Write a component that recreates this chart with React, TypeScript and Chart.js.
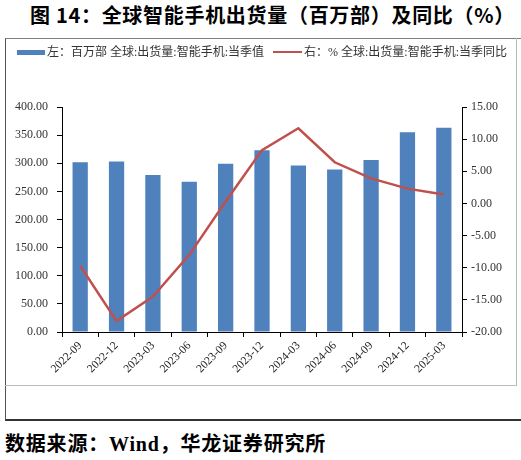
import React, { useEffect, useRef } from "react";
import { Chart, registerables } from "chart.js";

Chart.register(...registerables);

const categories = [
  "2022-09", "2022-12", "2023-03", "2023-06", "2023-09", "2023-12",
  "2024-03", "2024-06", "2024-09", "2024-12", "2025-03",
];
const shipments = [302, 303, 279, 267, 299, 323, 296, 289, 306, 355, 363];
const yoy = [-9.7, -18.3, -14.5, -8.0, 0.3, 8.3, 11.7, 6.4, 3.9, 2.3, 1.4];

const titleText = "图 14：全球智能手机出货量（百万部）及同比（%）";
const legendLeft = "左：百万部 全球:出货量:智能手机:当季值";
const legendRight = "右：% 全球:出货量:智能手机:当季同比";
const sourceText = "数据来源：Wind，华龙证券研究所";

const BLUE = "#4F81BD";
const RED = "#C0504D";
const serif = "'Liberation Serif', 'Noto Sans CJK SC', serif";

export default function App() {
  const ref = useRef<HTMLCanvasElement | null>(null);

  useEffect(() => {
    if (!ref.current) return;
    const tickFont = { family: "'Liberation Serif', serif", size: 12 };
    const chart = new Chart(ref.current, {
      type: "bar",
      data: {
        labels: categories,
        datasets: [
          {
            type: "line",
            label: legendRight,
            data: yoy,
            yAxisID: "y1",
            borderColor: RED,
            backgroundColor: RED,
            borderWidth: 2.5,
            pointRadius: 0,
            tension: 0,
            order: 0,
          } as any,
          {
            type: "bar",
            label: legendLeft,
            data: shipments,
            yAxisID: "y",
            backgroundColor: BLUE,
            borderWidth: 0,
            barPercentage: 0.42,
            categoryPercentage: 1,
            order: 1,
          },
        ],
      },
      options: {
        responsive: false,
        animation: false,
        devicePixelRatio: 1,
        layout: { padding: { top: 69, left: 0, right: 0, bottom: 0 } },
        plugins: { legend: { display: false }, tooltip: { enabled: false } },
        scales: {
          x: {
            grid: {
              display: true,
              drawOnChartArea: false,
              drawTicks: true,
              tickLength: 5,
              color: "#000",
              offset: true,
            },
            border: { color: "#000", width: 1 },
            ticks: {
              minRotation: 45,
              maxRotation: 45,
              autoSkip: false,
              font: { family: "'Liberation Serif', serif", size: 11.5 },
              color: "#222",
              padding: 2,
            },
            afterFit: (s: any) => {
              s.height = 54;
            },
          },
          y: {
            position: "left",
            min: 0,
            max: 400,
            grid: {
              drawOnChartArea: false,
              drawTicks: true,
              tickLength: 5,
              color: "#000",
            },
            border: { color: "#000", width: 1 },
            ticks: {
              stepSize: 50,
              font: tickFont,
              color: "#333",
              padding: 9,
              callback: (v: any) => Number(v).toFixed(2),
            },
            afterFit: (s: any) => {
              s.width = 57;
            },
          },
          y1: {
            position: "right",
            min: -20,
            max: 15,
            grid: {
              drawOnChartArea: false,
              drawTicks: true,
              tickLength: 5,
              color: "#000",
            },
            border: { color: "#000", width: 1 },
            ticks: {
              stepSize: 5,
              font: tickFont,
              color: "#333",
              padding: 4,
              callback: (v: any) => Number(v).toFixed(2),
            },
            afterFit: (s: any) => {
              s.width = 55;
            },
          },
        },
      },
    });
    return () => chart.destroy();
  }, []);

  return (
    <div style={{ position: "absolute", left: 0, top: 0, width: 521, height: 460, background: "#fff" }}>
      <div
        style={{
          position: "absolute",
          left: 30,
          top: 2,
          whiteSpace: "nowrap",
          fontFamily: "'Noto Sans CJK SC', sans-serif",
          fontWeight: 700,
          fontSize: 20,
          letterSpacing: "0.7px",
          lineHeight: "26px",
          color: "#000",
        }}
      >
        {titleText}
      </div>
      <div
        style={{
          position: "absolute",
          left: 5,
          top: 38,
          width: 516,
          height: 380,
          borderTop: "1px solid #808080",
          borderLeft: "1px solid #555",
          borderBottom: "2px solid #333",
        }}
      />
      <div
        style={{
          position: "absolute",
          left: 5,
          top: 38,
          width: 511,
          height: 347,
          borderRight: "1px solid #bbb",
          borderBottom: "1px solid #bbb",
        }}
      />
      <canvas
        ref={ref}
        width={512}
        height={348}
        style={{ position: "absolute", left: 5, top: 38, width: 512, height: 348 }}
      />
      <div style={{ position: "absolute", left: 17, top: 50, width: 28, height: 5, background: BLUE }} />
      <div
        style={{
          position: "absolute",
          left: 47,
          top: 44,
          whiteSpace: "nowrap",
          fontFamily: serif,
          fontSize: 12,
          lineHeight: "16px",
          color: "#333",
        }}
      >
        {legendLeft}
      </div>
      <div style={{ position: "absolute", left: 273, top: 51, width: 29, height: 2, background: RED }} />
      <div
        style={{
          position: "absolute",
          left: 304,
          top: 44,
          whiteSpace: "nowrap",
          fontFamily: serif,
          fontSize: 12,
          lineHeight: "16px",
          color: "#333",
        }}
      >
        {legendRight}
      </div>
      <div
        style={{
          position: "absolute",
          left: 5,
          top: 430,
          whiteSpace: "nowrap",
          fontFamily: "'Liberation Serif', 'Noto Sans CJK SC', serif",
          fontWeight: 700,
          fontSize: 20,
          letterSpacing: "0.8px",
          lineHeight: "28px",
          color: "#000",
        }}
      >
        {sourceText}
      </div>
    </div>
  );
}
